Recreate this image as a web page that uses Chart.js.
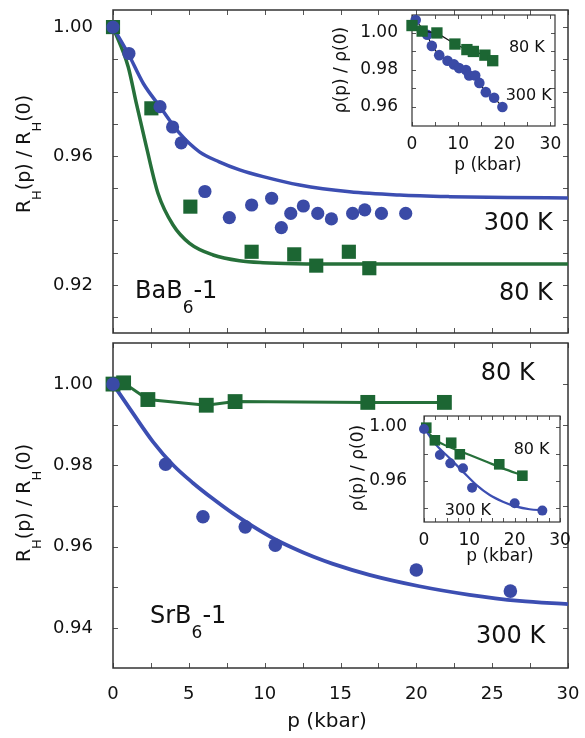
<!DOCTYPE html>
<html>
<head>
<meta charset="utf-8">
<script src="https://cdn.jsdelivr.net/npm/chart.js@4.4.0/dist/chart.umd.min.js"></script>
<style>
  body { margin: 0; background: #fff; }
  #wrap { position: relative; width: 585px; height: 738px; }
  canvas { position: absolute; }
</style>
</head>
<body>
<div id="wrap">
  <canvas id="baMain" width="585" height="340" style="left:0;top:0"></canvas>
  <canvas id="srMain" width="585" height="398" style="left:0;top:340px"></canvas>
  <canvas id="baInset" width="250" height="180" style="left:320px;top:0"></canvas>
  <canvas id="srInset" width="230" height="170" style="left:345px;top:405px"></canvas>
</div>
<script>
// ============================
// Data: BaB6-1 (upper panel)
// ============================
const baP300 = [0, 1.05, 3.1, 3.93, 4.5, 6.06, 7.67, 9.14, 10.46, 11.1, 11.72, 12.55, 13.5, 14.4, 15.8, 16.6, 17.7, 19.3];
const baRH300 = [1.000, 0.9918, 0.9753, 0.969, 0.9641, 0.949, 0.9409, 0.9448, 0.9469, 0.9378, 0.9422, 0.9445, 0.9422, 0.9405, 0.9422, 0.9433, 0.9422, 0.9422];
const baP80 = [0, 2.53, 5.1, 9.14, 11.95, 13.4, 15.55, 16.9];
const baRH80 = [1.000, 0.9748, 0.9443, 0.9303, 0.9295, 0.926, 0.9303, 0.9252];

const baFitP300 = [0, 1, 2, 3.1, 4.4, 5.7, 7, 8.35, 9.9, 12.3, 15.6, 18.9, 22.2, 26, 30];
const baFitRH300 = [1.000, 0.9918, 0.9825, 0.9753, 0.967, 0.9613, 0.9582, 0.9557, 0.9536, 0.951, 0.9489, 0.9479, 0.9474, 0.9471, 0.947];
const baFitP80 = [0, 1, 1.54, 2.2, 2.97, 3.96, 5.05, 6.6, 8.35, 9.9, 12, 16, 20, 25, 30];
const baFitRH80 = [1.000, 0.9877, 0.9763, 0.9629, 0.9484, 0.9386, 0.9329, 0.9293, 0.9275, 0.9269, 0.9266, 0.9265, 0.9265, 0.9265, 0.9265];

// inset: rho(p)/rho(0)
const baInsetP300 = [0.8, 3.3, 4.3, 5.9, 7.7, 9.1, 10.2, 11.7, 12.4, 13.7, 14.6, 16.0, 17.8, 19.6];
const baInsetRho300 = [1.007, 0.999, 0.993, 0.988, 0.985, 0.983, 0.981, 0.980, 0.977, 0.977, 0.973, 0.968, 0.965, 0.960];
const baInsetP80 = [0, 2.2, 5.4, 9.3, 11.9, 13.3, 15.8, 17.5];
const baInsetRho80 = [1.004, 1.001, 1.000, 0.994, 0.991, 0.990, 0.988, 0.985];

// ============================
// Data: SrB6-1 (lower panel)
// ============================
const srP80 = [0, 0.7, 2.3, 6.15, 8.05, 16.8, 21.85];
const srRH80 = [1.000, 1.0003, 0.9962, 0.9948, 0.9957, 0.9955, 0.9955];
const srP300 = [0, 3.47, 5.93, 8.72, 10.7, 20.0, 26.2];
const srRH300 = [1.000, 0.9803, 0.9674, 0.9649, 0.9604, 0.9543, 0.9491];

const srFitP300 = [0, 1.32, 2.64, 3.96, 5.27, 6.59, 7.91, 9.23, 10.55, 11.87, 13.18, 14.5, 16.9, 20.2, 23.5, 26.8, 30];
const srFitRH300 = [1.000, 0.9928, 0.9858, 0.9801, 0.9757, 0.9718, 0.9682, 0.965, 0.9621, 0.9597, 0.9576, 0.9558, 0.9531, 0.9503, 0.9482, 0.9467, 0.9459];

const srInsetP80 = [0.5, 2.4, 6.0, 7.9, 16.6, 21.7];
const srInsetRho80 = [0.9993, 0.990, 0.9882, 0.9797, 0.9723, 0.9639];
const srInsetP300 = [0, 3.5, 5.8, 8.6, 10.6, 20.0, 26.1];
const srInsetRho300 = [0.9983, 0.9792, 0.973, 0.9694, 0.9551, 0.9436, 0.9382];
const srInsetFitP80 = [0, 2.7, 6.4, 10.1, 13.8, 17.4, 21.9];
const srInsetFitRho80 = [0.9988, 0.990, 0.984, 0.9792, 0.9742, 0.9693, 0.9639];
const srInsetFitP300 = [0, 2.7, 5.7, 8.6, 11.6, 14.5, 17.4, 20.4, 23.3, 26.3];
const srInsetFitRho300 = [0.999, 0.9865, 0.9767, 0.9669, 0.957, 0.9497, 0.9448, 0.9411, 0.9392, 0.9384];

// ============================
// Ticks
// ============================
const mainXTicks = [0, 2.5, 5, 7.5, 10, 12.5, 15, 17.5, 20, 22.5, 25, 27.5, 30];
const mainXLabels = [0, 5, 10, 15, 20, 25, 30];
const baYTicks = [0.91, 0.92, 0.93, 0.94, 0.95, 0.96, 0.97, 0.98, 0.99, 1.00];
const baYLabels = [0.92, 0.96, 1.00];
const srYTicks = [0.94, 0.95, 0.96, 0.97, 0.98, 0.99, 1.00];
const srYLabels = [0.94, 0.96, 0.98, 1.00];
const baInsetXTicks = [0, 5, 10, 15, 20, 25, 30];
const baInsetYTicks = [0.96, 0.97, 0.98, 0.99, 1.00];
const baInsetYLabels = [0.96, 0.98, 1.00];
const srInsetXTicks = [0, 2.5, 5, 7.5, 10, 12.5, 15, 17.5, 20, 22.5, 25, 27.5, 30];
const srInsetYTicks = [0.94, 0.96, 0.98, 1.00];
const srInsetYLabels = [0.96, 1.00];
const insetXLabels = [0, 10, 20, 30];

// ============================
// Style
// ============================
const FONT = "'DejaVu Sans', sans-serif";
const BLUE = "#3a4aa6";
const BLUE_LINE = "#3c4eb2";
const GREEN = "#1c6633";
const GREEN_LINE = "#26703a";
const INK = "#111";

const pts = (xs, ys) => xs.map((x, i) => ({ x: x, y: ys[i] }));
const has = (arr, v) => arr.some(a => Math.abs(a - v) < 1e-6);

function markers(xs, ys, color, style, r, lineColor, lineWidth) {
    return {
        data: pts(xs, ys),
        showLine: !!lineColor,
        borderColor: lineColor || color,
        borderWidth: lineWidth || 0,
        tension: 0,
        pointStyle: style,
        pointRadius: r,
        pointBackgroundColor: color,
        pointBorderColor: color,
        pointBorderWidth: 0,
        clip: false,
        order: 1
    };
}

function curve(xs, ys, color, width) {
    return {
        data: pts(xs, ys),
        showLine: true,
        pointRadius: 0,
        borderColor: color,
        borderWidth: width,
        cubicInterpolationMode: "monotone",
        fill: false,
        clip: false,
        order: 5
    };
}

// draws text with subscripts: parts = [[text, isSub], ...]
function drawRich(ctx, item, x, y) {
    const size = item.size;
    const subSize = item.subSize || Math.round(size * 0.7);
    const drop = item.drop !== undefined ? item.drop : size * 0.6;
    const segs = item.parts.map(p => ({ t: p[0], s: !!p[1] }));
    let total = 0;
    segs.forEach(g => {
        ctx.font = (g.s ? subSize : size) + "px " + FONT;
        g.w = ctx.measureText(g.t).width;
        total += g.w;
    });
    ctx.save();
    ctx.translate(x, y);
    if (item.rotate) ctx.rotate(-Math.PI / 2);
    let cx = item.align === "right" ? -total : item.align === "center" ? -total / 2 : 0;
    ctx.fillStyle = INK;
    ctx.textAlign = "left";
    ctx.textBaseline = "alphabetic";
    segs.forEach(g => {
        ctx.font = (g.s ? subSize : size) + "px " + FONT;
        ctx.fillText(g.t, cx, g.s ? drop : 0);
        cx += g.w;
    });
    ctx.restore();
}

// frame with inward ticks on all four sides + annotation texts
// (config kept in a closure so Chart.js doesn't resolve it as options)
function makeDecor(cfg) {
    return {
        id: "decor",
        beforeDatasetsDraw(chart) {
            const ctx = chart.ctx;
            const a = chart.chartArea;
            const xs = chart.scales.x, ys = chart.scales.y;
            const len = cfg.tickLen;
            ctx.save();
            ctx.strokeStyle = "#555";
            ctx.lineWidth = 1;
            ctx.beginPath();
            cfg.xTicks.forEach(v => {
                const px = Math.round(xs.getPixelForValue(v)) + 0.5;
                ctx.moveTo(px, a.bottom); ctx.lineTo(px, a.bottom - len);
                ctx.moveTo(px, a.top); ctx.lineTo(px, a.top + len);
            });
            cfg.yTicks.forEach(v => {
                const py = Math.round(ys.getPixelForValue(v)) + 0.5;
                ctx.moveTo(a.left, py); ctx.lineTo(a.left + len, py);
                ctx.moveTo(a.right, py); ctx.lineTo(a.right - len, py);
            });
            ctx.stroke();
            ctx.strokeStyle = "#333";
            ctx.lineWidth = cfg.frameWidth;
            ctx.strokeRect(a.left, a.top, a.right - a.left, a.bottom - a.top);
            ctx.restore();
        },
        afterDraw(chart) {
            const ctx = chart.ctx;
            cfg.texts.forEach(item => {
                let x, y;
                if (item.at) {
                    x = chart.scales.x.getPixelForValue(item.at[0]);
                    y = chart.scales.y.getPixelForValue(item.at[1]);
                } else {
                    x = item.px[0]; y = item.px[1];
                }
                drawRich(ctx, item, x, y);
            });
        }
    };
}

// pin the axis box size and drop the label-overflow padding
function pinBox(s, prop, size) {
    s[prop] = size;
    s.paddingTop = 0; s.paddingBottom = 0;
    s.paddingLeft = 0; s.paddingRight = 0;
}

function makePanel(id, cfg) {
    const ctx = document.getElementById(id).getContext("2d");
    return new Chart(ctx, {
        type: "scatter",
        data: { datasets: cfg.datasets },
        plugins: [makeDecor(cfg)],
        options: {
            responsive: false,
            animation: false,
            devicePixelRatio: 1,
            layout: { autoPadding: false, padding: { left: 0, top: cfg.box.top, right: cfg.box.right, bottom: 0 } },
            plugins: {
                legend: { display: false },
                tooltip: { enabled: false }
            },
            scales: {
                x: {
                    type: "linear",
                    min: cfg.xRange[0], max: cfg.xRange[1],
                    grid: { display: false },
                    border: { display: false },
                    afterBuildTicks: s => { s.ticks = cfg.xTicks.map(v => ({ value: v })); },
                    afterFit: s => pinBox(s, "height", cfg.box.bottom),
                    ticks: {
                        display: cfg.xLabels.length > 0,
                        autoSkip: false, maxRotation: 0,
                        padding: cfg.xPad,
                        color: INK,
                        font: { family: FONT, size: cfg.tickSize },
                        callback: v => has(cfg.xLabels, v) ? String(v) : ""
                    }
                },
                y: {
                    type: "linear",
                    min: cfg.yRange[0], max: cfg.yRange[1],
                    grid: { display: false },
                    border: { display: false },
                    afterBuildTicks: s => { s.ticks = cfg.yTicks.map(v => ({ value: v })); },
                    afterFit: s => pinBox(s, "width", cfg.box.left),
                    ticks: {
                        autoSkip: false,
                        padding: cfg.yPad,
                        color: INK,
                        font: { family: FONT, size: cfg.tickSize },
                        callback: v => has(cfg.yLabels, v) ? v.toFixed(2) : ""
                    }
                }
            }
        }
    });
}

const yTitleMain = [["R"], ["H", 1], ["(p) / R"], ["H", 1], ["(0)"]];

// ============================
// Upper panel: BaB6-1
// ============================
makePanel("baMain", {
    box: { left: 113, top: 10, right: 17, bottom: 7 },
    xRange: [0, 30], yRange: [0.9051, 1.0053],
    xTicks: mainXTicks, xLabels: [], yTicks: baYTicks, yLabels: baYLabels,
    tickSize: 18, xPad: 10, yPad: 12, tickLen: 5, frameWidth: 1.5,
    datasets: [
        markers(baP300, baRH300, BLUE, "circle", 6.6),
        markers(baP80, baRH80, GREEN, "rect", 10),
        curve(baFitP300, baFitRH300, BLUE_LINE, 3.5),
        curve(baFitP80, baFitRH80, GREEN_LINE, 3.5)
    ],
    texts: [
        { parts: [["300 K"]], at: [29.0, 0.937], align: "right", size: 24 },
        { parts: [["80 K"]], at: [29.0, 0.9153], align: "right", size: 24 },
        { parts: [["BaB"], ["6", 1], ["-1"]], at: [1.45, 0.916], align: "left", size: 24, subSize: 17, drop: 15 },
        { parts: yTitleMain, px: [30, 154], rotate: true, align: "center", size: 19, subSize: 13, drop: 11 }
    ]
});

// ============================
// Lower panel: SrB6-1
// ============================
makePanel("srMain", {
    box: { left: 113, top: 3, right: 17, bottom: 70 },
    xRange: [0, 30], yRange: [0.9302, 1.0101],
    xTicks: mainXTicks, xLabels: mainXLabels, yTicks: srYTicks, yLabels: srYLabels,
    tickSize: 18, xPad: 8, yPad: 12, tickLen: 5, frameWidth: 1.5,
    datasets: [
        markers(srP300, srRH300, BLUE, "circle", 6.8),
        markers(srP80, srRH80, GREEN, "rect", 10.5, GREEN_LINE, 3),
        curve(srFitP300, srFitRH300, BLUE_LINE, 3.8)
    ],
    texts: [
        { parts: [["80 K"]], at: [27.8, 1.001], align: "right", size: 24 },
        { parts: [["300 K"]], at: [28.5, 0.9364], align: "right", size: 24 },
        { parts: [["SrB"], ["6", 1], ["-1"]], at: [2.44, 0.9413], align: "left", size: 24, subSize: 17, drop: 15 },
        { parts: yTitleMain, px: [30, 163], rotate: true, align: "center", size: 19, subSize: 13, drop: 11 },
        { parts: [["p (kbar)"]], px: [327, 387], align: "center", size: 20 }
    ]
});

// ============================
// Upper inset
// ============================
makePanel("baInset", {
    box: { left: 92, top: 15, right: 15, bottom: 54 },
    xRange: [0, 31], yRange: [0.9497, 1.0097],
    xTicks: baInsetXTicks, xLabels: insetXLabels, yTicks: baInsetYTicks, yLabels: baInsetYLabels,
    tickSize: 17, xPad: 0, yPad: 6, tickLen: 4, frameWidth: 1.2,
    datasets: [
        markers(baInsetP80, baInsetRho80, GREEN, "rect", 8, "#111", 1.2),
        markers(baInsetP300, baInsetRho300, BLUE, "circle", 5.3, "#111", 1.2)
    ],
    texts: [
        { parts: [["80 K"]], at: [28.8, 0.9897], align: "right", size: 16 },
        { parts: [["300 K"]], at: [30.3, 0.9638], align: "right", size: 16 },
        { parts: [["ρ(p) / ρ(0)"]], px: [26, 70], rotate: true, align: "center", size: 17 },
        { parts: [["p (kbar)"]], px: [168, 170], align: "center", size: 17 }
    ]
});

// ============================
// Lower inset
// ============================
makePanel("srInset", {
    box: { left: 79, top: 11, right: 15, bottom: 53 },
    xRange: [0, 30], yRange: [0.9298, 1.0079],
    xTicks: srInsetXTicks, xLabels: insetXLabels, yTicks: srInsetYTicks, yLabels: srInsetYLabels,
    tickSize: 17, xPad: 0, yPad: 9, tickLen: 4, frameWidth: 1.2,
    datasets: [
        markers(srInsetP300, srInsetRho300, BLUE, "circle", 5),
        markers(srInsetP80, srInsetRho80, GREEN, "rect", 7.5),
        curve(srInsetFitP300, srInsetFitRho300, BLUE_LINE, 2.2),
        curve(srInsetFitP80, srInsetFitRho80, GREEN_LINE, 2.2)
    ],
    texts: [
        { parts: [["80 K"]], at: [27.7, 0.9799], align: "right", size: 16 },
        { parts: [["300 K"]], at: [4.6, 0.935], align: "left", size: 16 },
        { parts: [["ρ(p) / ρ(0)"]], px: [18, 63], rotate: true, align: "center", size: 17 },
        { parts: [["p (kbar)"]], px: [155, 156], align: "center", size: 17 }
    ]
});
</script>
</body>
</html>
